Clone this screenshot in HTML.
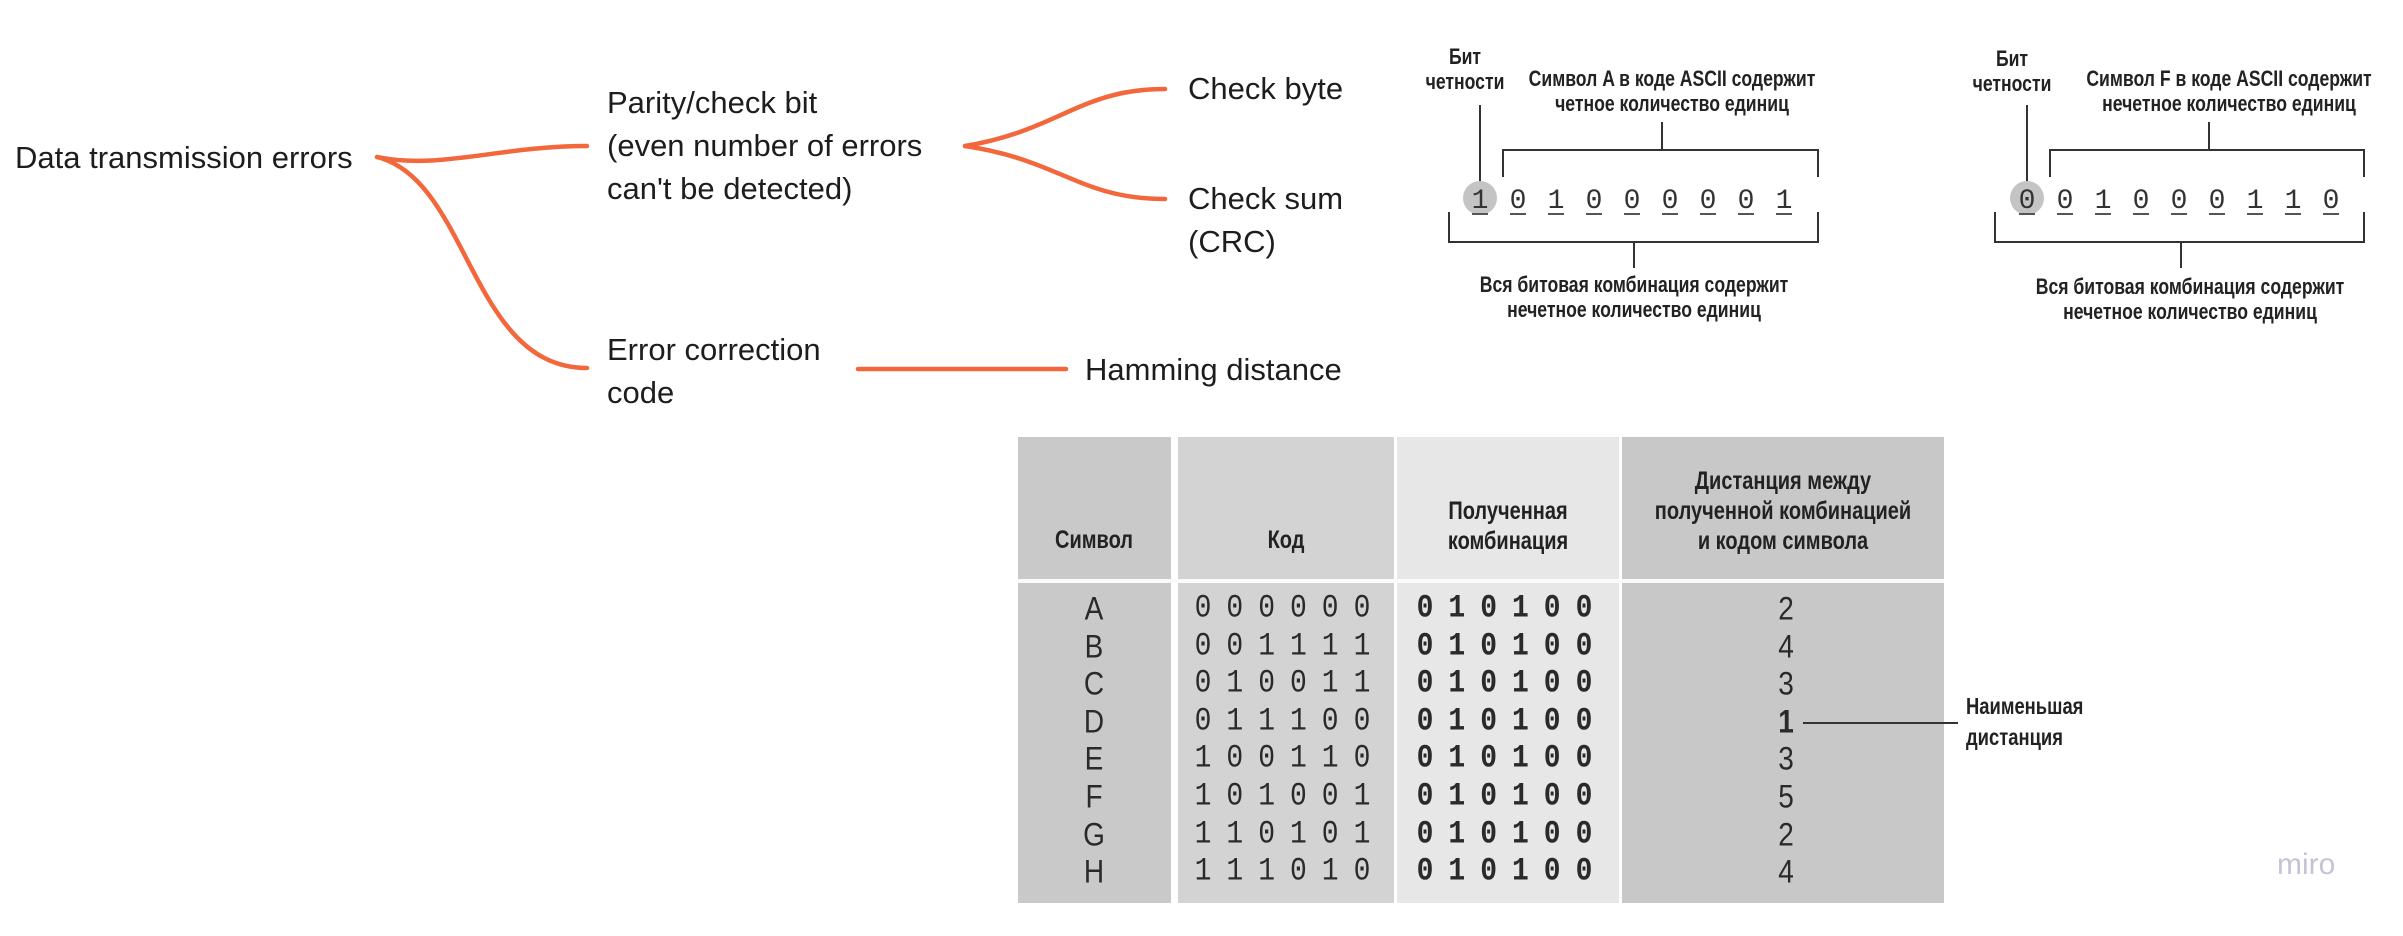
<!DOCTYPE html>
<html><head><meta charset="utf-8">
<style>
body{margin:0;width:2403px;height:936px;background:#fff;position:relative;overflow:hidden;font-family:"Liberation Sans","Noto Sans CJK SC",sans-serif;}
.t{position:absolute;font-size:31px;color:#1d1d1d;line-height:43px;white-space:nowrap}
.n{font-family:"Liberation Sans",sans-serif;font-weight:bold;color:#222;position:absolute;white-space:nowrap;transform:translateX(-50%) scaleX(0.8);text-align:center}
svg{position:absolute;left:0;top:0;z-index:5}
#rows{position:absolute;left:0;top:0;z-index:6}
</style></head><body>
<svg width="2403" height="936">
<g fill="none" stroke="#f2683c" stroke-width="4.5" stroke-linecap="round">
<path d="M377 157 C440 170,500 146,587 146"/>
<path d="M377 157 C470 180,470 368,587 368"/>
<path d="M965 146 C1060 130,1080 89,1165 89"/>
<path d="M965 146 C1060 160,1080 199,1165 199"/>
<path d="M858 369 L1066 369"/>
</g>
<g stroke="#333" stroke-width="2" fill="none">
<path d="M1480 105V182 M1662 122V150 M1503 177V150H1818V177 M1449 212V242H1818V212 M1634 242V268"/>
<path d="M2027 105V182 M2209 122V150 M2050 177V150H2364V177 M1995 212V242H2364V212 M2181 242V268"/>
<path d="M1803 723H1958"/>
</g>
<circle cx="1480" cy="198" r="17" fill="#c4c4c4"/>
<circle cx="2027" cy="198" r="17" fill="#c4c4c4"/>
<g id="bits"></g>
</svg>

<div class="t" style="left:15px;top:136px">Data transmission errors</div>
<div class="t" style="left:607px;top:81px">Parity/check bit<br>(even number of errors<br>can't be detected)</div>
<div class="t" style="left:1188px;top:67px">Check byte</div>
<div class="t" style="left:1188px;top:177px">Check sum<br>(CRC)</div>
<div class="t" style="left:607px;top:328px">Error correction<br>code</div>
<div class="t" style="left:1085px;top:348px">Hamming distance</div>

<div class="n" style="left:1465px;top:44px;font-size:22px;line-height:25px">Бит<br>четности</div>
<div class="n" style="left:1672px;top:66px;font-size:22px;line-height:25px">Символ A в коде ASCII содержит<br>четное количество единиц</div>
<div class="n" style="left:1634px;top:272px;font-size:22px;line-height:25px">Вся битовая комбинация содержит<br>нечетное количество единиц</div>
<div class="n" style="left:2012px;top:46px;font-size:22px;line-height:25px">Бит<br>четности</div>
<div class="n" style="left:2229px;top:66px;font-size:22px;line-height:25px">Символ F в коде ASCII содержит<br>нечетное количество единиц</div>
<div class="n" style="left:2190px;top:274px;font-size:22px;line-height:25px">Вся битовая комбинация содержит<br>нечетное количество единиц</div>

<div style="position:absolute;left:1018px;top:437px;width:926px;height:466px">
 <div style="position:absolute;left:0;top:0;width:153px;height:466px;background:#c9c9c9"></div>
 <div style="position:absolute;left:160px;top:0;width:216px;height:466px;background:#d3d3d3"></div>
 <div style="position:absolute;left:379px;top:0;width:222px;height:466px;background:#e7e7e7"></div>
 <div style="position:absolute;left:604px;top:0;width:322px;height:466px;background:#c8c8c8"></div>
 <div style="position:absolute;left:0;top:142px;width:926px;height:4px;background:#fafafa"></div>
</div>
<div class="n" style="left:1094px;top:526px;font-size:25px">Символ</div>
<div class="n" style="left:1286px;top:526px;font-size:25px">Код</div>
<div class="n" style="left:1508px;top:496px;font-size:25px;line-height:30px">Полученная<br>комбинация</div>
<div class="n" style="left:1783px;top:466px;font-size:25px;line-height:30px">Дистанция между<br>полученной комбинацией<br>и кодом символа</div>
<div id="rows"></div>
<div class="n" style="left:1966px;top:691px;font-size:23px;line-height:31px;text-align:left;transform:scaleX(0.8);transform-origin:left top">Наименьшая<br>дистанция</div>
<div style="position:absolute;left:2277px;top:848px;font-size:30px;color:#c5c3d6">miro</div>

<script>
const symbols=["A","B","C","D","E","F","G","H"];
const codes=["000000","001111","010011","011100","100110","101001","110101","111010"];
const received=["010100","010100","010100","010100","010100","010100","010100","010100"];
const distances=[2,4,3,1,3,5,2,4];
const bitsA=["1","0","1","0","0","0","0","0","1"];
const bitsF=["0","0","1","0","0","0","1","1","0"];
const rows=document.getElementById('rows');
const mono='"Liberation Mono","DejaVu Sans Mono",monospace';
function cell(txt,x,y,font,ls,weight,name){
  const d=document.createElement('div');
  
  
  d.style.cssText='position:absolute;transform:translate(-50%,-50%) scaleY(1.15);white-space:nowrap;color:#2a2a2a;font-size:28px;left:'+x+'px;top:'+y+'px;font-family:'+font+';letter-spacing:'+ls+'px;font-weight:'+weight;
  d.textContent=txt;rows.appendChild(d);
}
symbols.forEach((s,i)=>{
  const y=609+i*37.6;
  cell(s,1094,y,'"Liberation Sans",sans-serif',0,'normal','symbol-cell');
  cell(codes[i],1290,y,mono,15,'normal','code-cell');
  cell(received[i],1512,y,mono,15,'bold','received-cell');
  cell(String(distances[i]),1786,y,'"Liberation Sans",sans-serif',0,distances[i]===1?'bold':'normal','distance-cell');
});
const g=document.getElementById('bits');
function bits(arr,x0,name){
  arr.forEach((b,i)=>{
    const x=x0+i*38;
    const t=document.createElementNS('http://www.w3.org/2000/svg','text');
    
    
    t.setAttribute('x',x);t.setAttribute('y',208);t.setAttribute('text-anchor','middle');
    t.setAttribute('font-family','Liberation Mono, monospace');t.setAttribute('font-size','28');t.setAttribute('fill','#333');
    t.textContent=b;g.appendChild(t);
    const l=document.createElementNS('http://www.w3.org/2000/svg','line');
    l.setAttribute('x1',x-8);l.setAttribute('x2',x+8);l.setAttribute('y1',214);l.setAttribute('y2',214);
    l.setAttribute('stroke','#555');l.setAttribute('stroke-width','2');g.appendChild(l);
  });
}
bits(bitsA,1480,'bit-a');
bits(bitsF,2027,'bit-f');
</script>
</body></html>
